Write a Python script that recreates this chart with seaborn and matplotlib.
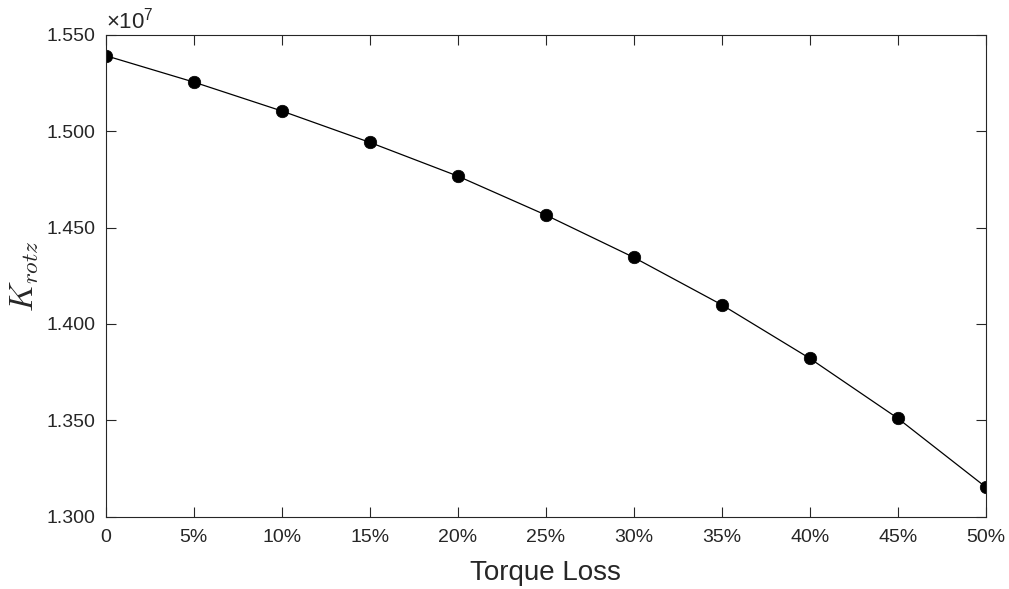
import matplotlib
matplotlib.use("Agg")
import matplotlib.pyplot as plt
import matplotlib.ticker as mticker
import numpy as np
import pandas as pd
import seaborn as sns

# Torque loss fraction (percent) and rotational stiffness about z
torque_loss = [0, 5, 10, 15, 20, 25, 30, 35, 40, 45, 50]
k_rotz = [1.5393e7, 1.5256e7, 1.5106e7, 1.4943e7, 1.4768e7, 1.4566e7,
          1.4346e7, 1.4100e7, 1.3822e7, 1.3511e7, 1.3154e7]
x_tick_labels = ["0", "5%", "10%", "15%", "20%", "25%", "30%", "35%", "40%", "45%", "50%"]
y_ticks = [1.300e7, 1.350e7, 1.400e7, 1.450e7, 1.500e7, 1.550e7]

sns.set_theme(style="white")
plt.rcParams["font.family"] = ["Liberation Sans", "DejaVu Sans"]
plt.rcParams["mathtext.fontset"] = "cm"
plt.rcParams["mathtext.rm"] = "Liberation Sans"
plt.rcParams["mathtext.it"] = "Liberation Sans:italic"

axis_color = "#262626"
df = pd.DataFrame({"loss": torque_loss, "k": k_rotz})

fig = plt.figure(figsize=(10.09, 5.89), dpi=100)
ax = fig.add_axes([0.1046, 0.1228, 0.8723, 0.8178])

sns.lineplot(data=df, x="loss", y="k", ax=ax, color="black", linewidth=0.9,
             marker="o", markersize=9, markerfacecolor="black",
             markeredgecolor="black", markeredgewidth=0.5)

ax.set_xlim(0, 50)
ax.set_ylim(1.300e7, 1.550e7)
ax.set_xticks(torque_loss)
ax.set_xticklabels(x_tick_labels)
ax.set_yticks(y_ticks)
ax.yaxis.set_major_formatter(mticker.FuncFormatter(lambda v, p: f"{v / 1e7:.3f}"))

ax.tick_params(axis="both", which="major", direction="in", length=7, width=0.8,
               color=axis_color, labelcolor=axis_color, labelsize=14,
               top=True, right=True, bottom=True, left=True)
ax.tick_params(axis="x", pad=9)
ax.tick_params(axis="y", pad=7)
for s in ax.spines.values():
    s.set_visible(True)
    s.set_color(axis_color)
    s.set_linewidth(0.8)

ax.set_xlabel("Torque Loss", fontsize=20, color=axis_color, labelpad=10)
ax.set_ylabel(r"$K_{rotz}$", fontsize=24, color=axis_color, labelpad=4)
ax.text(0.0, 1.004, r"$\times\mathregular{10}^{\mathregular{7}}$", transform=ax.transAxes,
        fontsize=16, color=axis_color, ha="left", va="bottom",
        math_fontfamily="custom")

fig.savefig("out.png", dpi=100, facecolor="white")
